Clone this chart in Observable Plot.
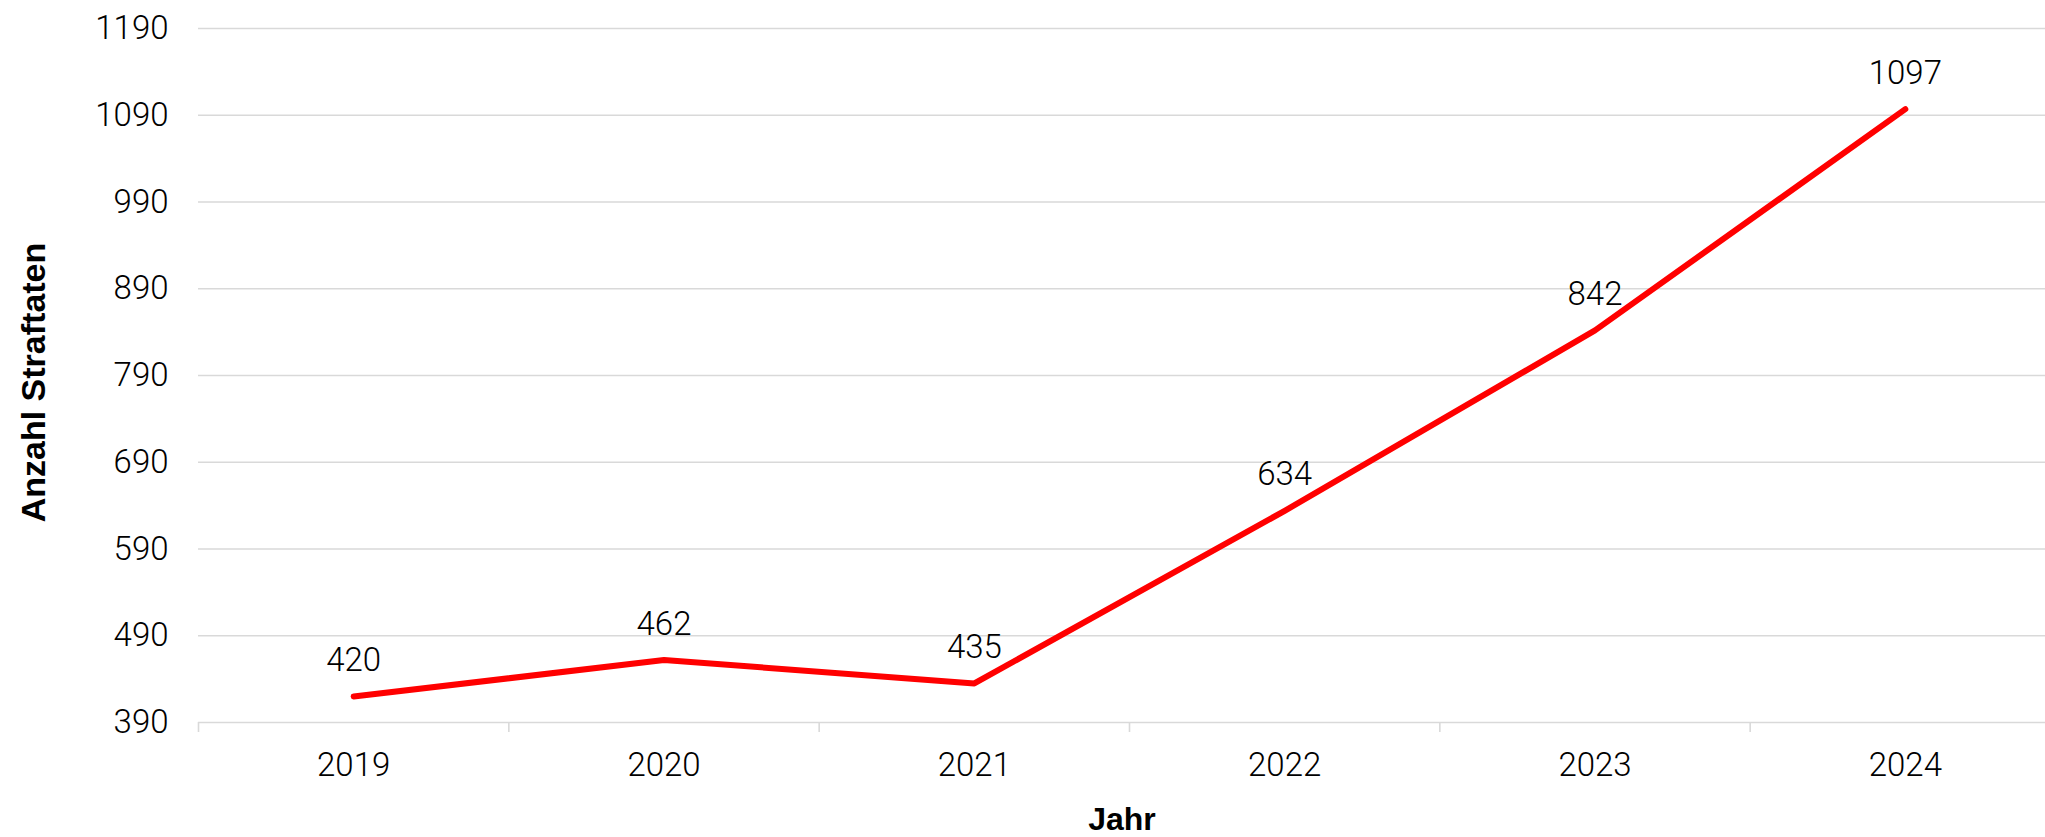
<!DOCTYPE html>
<html>
<head>
<meta charset="utf-8">
<script src="https://cdn.jsdelivr.net/npm/d3@7"></script>
<script src="https://cdn.jsdelivr.net/npm/@observablehq/plot@0.6"></script>
<style>
  html, body { margin: 0; padding: 0; background: #fff; overflow: hidden; }
</style>
</head>
<body>
<div id="chart"></div>
<script>
const years = [2019, 2020, 2021, 2022, 2023, 2024];
const values = [420, 462, 435, 634, 842, 1097];
const yTicks = [390, 490, 590, 690, 790, 890, 990, 1090, 1190];
const xLabel = "Jahr";
const yLabel = "Anzahl Straftaten";

const data = years.map((year, i) => ({year, value: values[i]}));
const boundaries = years.map(y => y - 0.5);

const grid = "#d9d9d9";
const boldFont = "'Liberation Sans', Arial, sans-serif";

const chart = Plot.plot({
  width: 2045,
  height: 837,
  marginLeft: 198,
  marginRight: 0,
  marginTop: 28,
  marginBottom: 115,
  style: {fontFamily: "Roboto, 'Liberation Sans', sans-serif", fontSize: "33px", fontWeight: 300, color: "#000", background: "#fff"},
  x: {type: "linear", domain: [years[0] - 0.5, years[years.length - 1] + 0.5], range: [198, 2060]},
  y: {domain: [yTicks[0], yTicks[yTicks.length - 1]]},
  marks: [
    Plot.gridY(yTicks, {stroke: grid, strokeOpacity: 1, strokeWidth: 1.6}),
    Plot.axisY(yTicks, {tickSize: 0, tickPadding: 30, tickFormat: d => String(d), label: null, fontSize: 33, fontWeight: 300}),
    Plot.axisX(boundaries, {tickSize: 10, stroke: grid, strokeOpacity: 1, strokeWidth: 1.6, tickFormat: () => "", label: null}),
    Plot.axisX(years, {tickSize: 0, tickPadding: 30, tickFormat: d => String(d), label: null, fontSize: 33, fontWeight: 300}),
    Plot.lineY(data, {x: "year", y: "value", stroke: "#ff0000", strokeWidth: 6, strokeLinecap: "round", strokeLinejoin: "round"}),
    Plot.text(data, {x: "year", y: "value", text: d => String(d.value), dy: -36, fontSize: 33, fontWeight: 300, fill: "#000"}),
    Plot.text([xLabel], {frameAnchor: "bottom", textAnchor: "middle", lineAnchor: "middle", dy: 97, fontSize: 32, fontWeight: "bold", fontFamily: boldFont, fill: "#000"}),
    Plot.text([yLabel], {frameAnchor: "left", textAnchor: "middle", lineAnchor: "middle", rotate: -90, dx: -164, dy: 7, fontSize: 34, fontWeight: "bold", fontFamily: boldFont, fill: "#000"})
  ]
});

document.getElementById("chart").appendChild(chart);
</script>
</body>
</html>
